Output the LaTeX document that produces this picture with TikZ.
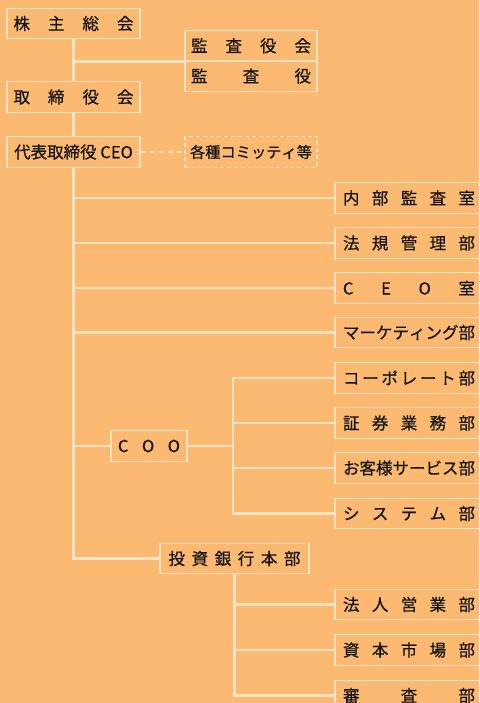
\documentclass[tikz,border=0pt]{standalone}
\usepackage{fontspec}
\newfontfamily\jp[FakeBold=0.6]{Noto Sans CJK JP}
\definecolor{bg}{HTML}{FBB972}
\definecolor{ln}{HTML}{FEE3C2}
\definecolor{tx}{HTML}{151515}
\newcommand{\sprd}[2]{\makebox[#1pt][l]{#2}}
\begin{document}
\begin{tikzpicture}[x=1pt,y=-1pt,
  box/.style={draw=ln, line width=1.2pt, inner sep=0pt, text=tx,
    font=\jp\fontsize{16.5}{18}\selectfont, minimum height=30.5pt},
  lbox/.style={box, minimum width=133pt},
  rbox/.style={box, minimum width=148pt},
  dbox/.style={box, dash pattern=on 4pt off 3pt},
  trunk/.style={draw=ln, line width=2.6pt}]
\fill[bg] (0,0) rectangle (479,703);
\useasboundingbox (0,0) rectangle (479,703);
\clip (0,0) rectangle (479,703);

% left column
\node[lbox] (kabu) at (73.5,23.5) {\sprd{120}{株\hfill 主\hfill 総\hfill 会}};
\node[lbox] (tori) at (73.5,97) {\sprd{120}{取\hfill 締\hfill 役\hfill 会}};
\node[lbox] (ceo)  at (73.5,152) {代表取締役 CEO};

% audit
\node[box, minimum width=132pt] (kansakai) at (251,45.75) {\sprd{120}{監\hfill 査\hfill 役\hfill 会}};
\node[box, minimum width=132pt] (kansayaku) at (251,76) {\sprd{120}{監\hfill 査\hfill 役}};
\node[dbox, minimum width=132pt, font=\jp\fontsize{15.2}{18}\selectfont] (comm) at (251,152) {\sprd{122}{各\hfill 種\hfill コ\hfill ミ\hfill ッ\hfill テ\hfill ィ\hfill 等}};

% right column
\node[rbox] (naibu) at (409,198) {\sprd{132}{内\hfill 部\hfill 監\hfill 査\hfill 室}};
\node[rbox] (houki) at (409,243) {\sprd{132}{法\hfill 規\hfill 管\hfill 理\hfill 部}};
\node[rbox] (ceor)  at (409,288) {\sprd{132}{C\hfill E\hfill O\hfill 室}};
\node[rbox] (mkt)   at (409,332.5) {\sprd{132}{マ\hfill ー\hfill ケ\hfill テ\hfill ィ\hfill ン\hfill グ\hfill 部}};
\node[rbox] (corp)  at (409,378) {\sprd{132}{コ\hfill ー\hfill ポ\hfill レ\hfill ー\hfill ト\hfill 部}};
\node[rbox] (shoken) at (409,423) {\sprd{132}{証\hfill 券\hfill 業\hfill 務\hfill 部}};
\node[rbox] (okyaku) at (409,468) {\sprd{132}{お\hfill 客\hfill 様\hfill サ\hfill ー\hfill ビ\hfill ス\hfill 部}};
\node[rbox] (sys)   at (409,513.5) {\sprd{132}{シ\hfill ス\hfill テ\hfill ム\hfill 部}};
\node[rbox] (hojin) at (409,604.5) {\sprd{132}{法\hfill 人\hfill 営\hfill 業\hfill 部}};
\node[rbox] (shihon) at (409,650) {\sprd{132}{資\hfill 本\hfill 市\hfill 場\hfill 部}};
\node[rbox] (shinsa) at (409,695.5) {\sprd{132}{審\hfill 査\hfill 部}};

% middle
\node[box, minimum width=76pt] (coo) at (149,446) {\sprd{62}{C\hfill O\hfill O}};
\node[box, minimum width=149pt] (toushi) at (234.5,558.5) {\sprd{132}{投\hfill 資\hfill 銀\hfill 行\hfill 本\hfill 部}};

% connectors
\draw[trunk] (kabu.south) -- (tori.north);
\draw[trunk] (kabu.south |- kansakai.south west) -- (kansakai.south west);
\draw[trunk] (tori.south) -- (ceo.north);
\draw[draw=ln, line width=2.4pt, dash pattern=on 5pt off 4pt] (ceo.east) -- (comm.west);
\coordinate (corner) at (ceo.south |- toushi.west);
\draw[trunk, line join=miter] (ceo.south) -- (corner) -- (toushi.west);
\foreach \n in {naibu,houki,ceor,mkt,coo}
  \draw[trunk] (ceo.south |- \n.west) -- (\n.west);
\coordinate (cb) at (233,446);
\draw[trunk] (coo.east) -- (cb);
\draw[trunk, line cap=rect] (cb |- corp.west) -- (cb |- sys.west);
\foreach \n in {corp,shoken,okyaku,sys}
  \draw[trunk] (cb |- \n.west) -- (\n.west);
\draw[trunk, line join=miter] (toushi.south) -- (toushi.south |- shinsa.west) -- (shinsa.west);
\foreach \n in {hojin,shihon}
  \draw[trunk] (toushi.south |- \n.west) -- (\n.west);
\end{tikzpicture}
\end{document}
